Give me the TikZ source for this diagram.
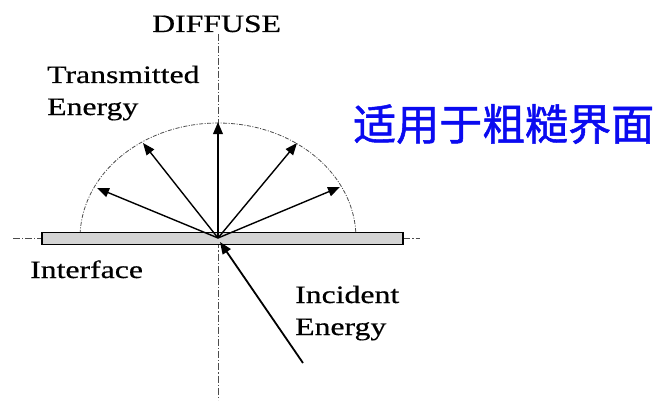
\documentclass[tikz,border=0pt]{standalone}
\usepackage{fontspec}
\setmainfont{Liberation Serif}[FakeBold=0.5]
\newfontfamily\cjk{Noto Sans CJK SC}[FakeBold=1.2]
\usetikzlibrary{arrows.meta}
\definecolor{cnblue}{RGB}{10,10,240}
\tikzset{
  lbl/.style={anchor=base west,inner sep=0pt,font=\fontsize{25}{25}\selectfont},
  axisline/.style={draw=black!70,line width=0.8pt,dash pattern=on 7pt off 2pt on 1.2pt off 2pt},
  ray/.style={draw=black,line width=1.4pt,-{Triangle[length=12pt,width=9.5pt]}},
}
\newcommand{\wide}[1]{\scalebox{1.27}[1]{#1}}
\begin{document}
\begin{tikzpicture}[x=1pt,y=1pt]
\useasboundingbox (0,0) rectangle (656,400);
% axes
\coordinate (vtop) at (218,366);
\coordinate (vbot) at (218,0);
\coordinate (hl) at (13,162);
\coordinate (hr) at (420,162);
\draw[axisline] (vtop) -- (vbot);
\draw[axisline] (hl) -- (hr);
% interface bar
\node[draw=black,line width=1.3pt,fill=black!17,minimum width=361pt,minimum height=12pt,inner sep=0pt] (bar) at (222.5,161.5) {};
% hemisphere
\draw[black!70,line width=0.8pt,dash pattern=on 4pt off 1.5pt on 1pt off 1.5pt] (355.8,168) arc[start angle=3,end angle=177,x radius=138,y radius=115];
% rays
\coordinate (O) at (218,162);
\coordinate (t1) at (97,212);
\coordinate (t2) at (143,257);
\coordinate (t3) at (218,278);
\coordinate (t4) at (297,257);
\coordinate (t5) at (340,213);
\draw[ray] (O) -- (t1);
\draw[ray] (O) -- (t2);
\draw[ray,line width=2pt] (O) -- (t3);
\draw[ray] (O) -- (t4);
\draw[ray] (O) -- (t5);
\coordinate (inc) at (303,37);
\coordinate (hit) at (220,158);
\draw[ray,line width=1.8pt] (inc) -- (hit);
% labels
\node[lbl] (diffuse) at (152,368) {\wide{DIFFUSE}};
\node[lbl] (trans1) at (47,317) {\wide{Transmitted}};
\node[lbl] (trans2) at (47,285) {\wide{Energy}};
\node[lbl] (iface) at (30,122) {\wide{Interface}};
\node[lbl] (inc1) at (295,97) {\wide{Incident}};
\node[lbl] (inc2) at (295,65) {\wide{Energy}};
\node[anchor=west,inner sep=0pt,text=cnblue,font=\cjk\fontsize{43}{43}\selectfont] (cn) at (353,276) {适用于粗糙界面};
\end{tikzpicture}
\end{document}
